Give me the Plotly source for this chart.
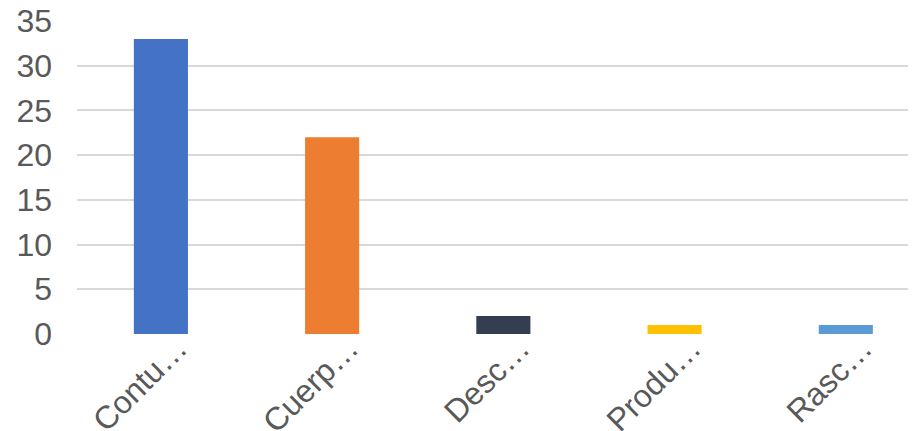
import plotly.graph_objects as go

categories = ["Contu…", "Cuerp…", "Desc…", "Produ…", "Rasc…"]
values = [33, 22, 2, 1, 1]
colors = ["#4472C4", "#ED7D31", "#333F50", "#FFC000", "#5B9BD5"]
y_ticks = [0, 5, 10, 15, 20, 25, 30, 35]

fig = go.Figure(go.Bar(
    x=list(range(len(categories))),
    y=values,
    marker=dict(color=colors, line=dict(width=0)),
    width=0.316,
))

font = dict(family="Liberation Sans, Arial, sans-serif", size=32, color="#595959")

# page body has an 8px default margin, so the figure is sized/offset to compensate
fig.update_layout(
    width=908, height=423,
    margin=dict(l=69, r=0, t=13, b=97, autoexpand=False),
    paper_bgcolor="white", plot_bgcolor="white",
    showlegend=False,
    font=font,
    xaxis=dict(
        range=[-0.49, 4.41],
        tickmode="array",
        tickvals=list(range(len(categories))),
        ticktext=categories,
        tickangle=-45,
        showgrid=False,
        zeroline=False,
        showline=False,
        ticks="",
        ticklabelshift=17,
        ticklabelstandoff=-12,
        ticklabeloverflow="allow",
        tickfont=font,
        automargin=False,
    ),
    yaxis=dict(
        range=[0, 35],
        tickmode="array",
        tickvals=y_ticks,
        showgrid=True,
        gridcolor="#D9D9D9",
        gridwidth=1.5,
        zeroline=False,
        showline=False,
        ticks="",
        ticklabelstandoff=24,
        ticklabeloverflow="allow",
        tickfont=font,
        automargin=False,
    ),
)

fig.write_html("out.html")
